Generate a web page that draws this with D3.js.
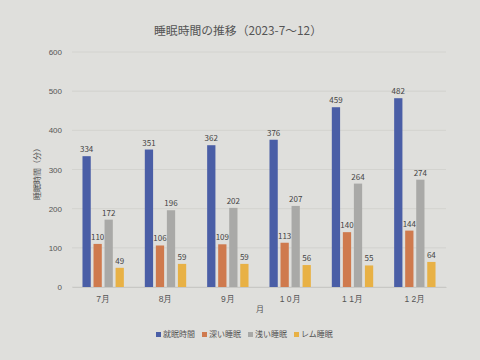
<!DOCTYPE html>
<html><head><meta charset="utf-8">
<script src="https://cdn.jsdelivr.net/npm/d3@7"></script>
<style>
html,body{margin:0;padding:0;background:#dfdfdc;}
svg{display:block;font-family:"Noto Sans CJK JP","Noto Sans",sans-serif;}
</style></head>
<body><svg id="c" width="480" height="360"></svg>
<script>
const months = ["7月","8月","9月","1 0月","1 1月","1 2月"];
const seriesNames = ["就眠時間","深い睡眠","浅い睡眠","レム睡眠"];
const totalSleep = [334,351,362,376,459,482];
const deepSleep = [110,106,109,113,140,144];
const lightSleep = [172,196,202,207,264,274];
const remSleep = [49,59,59,56,55,64];
const yTicks = [0,100,200,300,400,500,600];
const colors = ["#4a5ea6","#cf7a4e","#a9a9a7","#e8b145"];

const series = [totalSleep, deepSleep, lightSleep, remSleep];
const svg = d3.select("#c");
const m = {l:72, r:446, t:52, b:287};

const x = d3.scaleBand().domain(months).range([m.l, m.r]).paddingInner(0).paddingOuter(0);
const xs = d3.scaleBand().domain(d3.range(4)).range([0, x.bandwidth()]).paddingInner(0.25).paddingOuter(0.95);
const y = d3.scaleLinear().domain([0,600]).range([m.b, m.t]);

// gridlines
svg.append("g").selectAll("line").data(yTicks).join("line")
  .attr("x1", m.l).attr("x2", m.r)
  .attr("y1", d=>y(d)).attr("y2", d=>y(d))
  .attr("stroke", "#cfcfcc").attr("stroke-width", 0.8);

// y axis
const yAxis = svg.append("g").attr("transform", `translate(${m.l},0)`)
  .call(d3.axisLeft(y).tickValues(yTicks).tickSize(0).tickPadding(10));
yAxis.select(".domain").remove();
yAxis.selectAll("text").attr("fill","#555").style("font-size","8px");

// x axis
const xAxis = svg.append("g").attr("transform", `translate(0,${m.b})`)
  .call(d3.axisBottom(x).tickSize(0).tickPadding(9));
xAxis.select(".domain").attr("stroke","#c8c8c5");
xAxis.selectAll("text").attr("fill","#555").style("font-size","8.5px");

// bars
const groups = svg.append("g").selectAll("g").data(months).join("g")
  .attr("transform", d=>`translate(${x(d)},0)`);
series.forEach((s, si) => {
  groups.append("rect")
    .attr("x", xs(si)).attr("width", xs.bandwidth())
    .attr("y", (d,i)=>y(s[i])).attr("height", (d,i)=>m.b - y(s[i]))
    .attr("fill", colors[si]);
  groups.append("text")
    .attr("x", xs(si) + xs.bandwidth()/2).attr("y", (d,i)=>y(s[i]) - 4)
    .attr("text-anchor","middle").attr("fill","#444").style("font-size","8px")
    .text((d,i)=>s[i]);
});

// title
svg.append("text").attr("x", 238).attr("y", 35).attr("text-anchor","middle")
  .attr("fill","#555").style("font-size","11.8px").text("睡眠時間の推移（2023-7～12）");

// axis titles
svg.append("text").attr("transform","translate(40,172) rotate(-90)").attr("text-anchor","middle")
  .attr("fill","#555").style("font-size","8px").text("睡眠時間（分）");
svg.append("text").attr("x", 260).attr("y", 312).attr("text-anchor","middle")
  .attr("fill","#555").style("font-size","8px").text("月");

// legend
const lg = svg.append("g").attr("transform","translate(156,337)");
const lx = [0, 46, 92, 138];
seriesNames.forEach((n,i)=>{
  lg.append("rect").attr("x", lx[i]).attr("y", -5).attr("width",5).attr("height",5).attr("fill", colors[i]);
  lg.append("text").attr("x", lx[i]+7).attr("y", 0).attr("fill","#555").style("font-size","8px").text(n);
});
</script></body></html>
